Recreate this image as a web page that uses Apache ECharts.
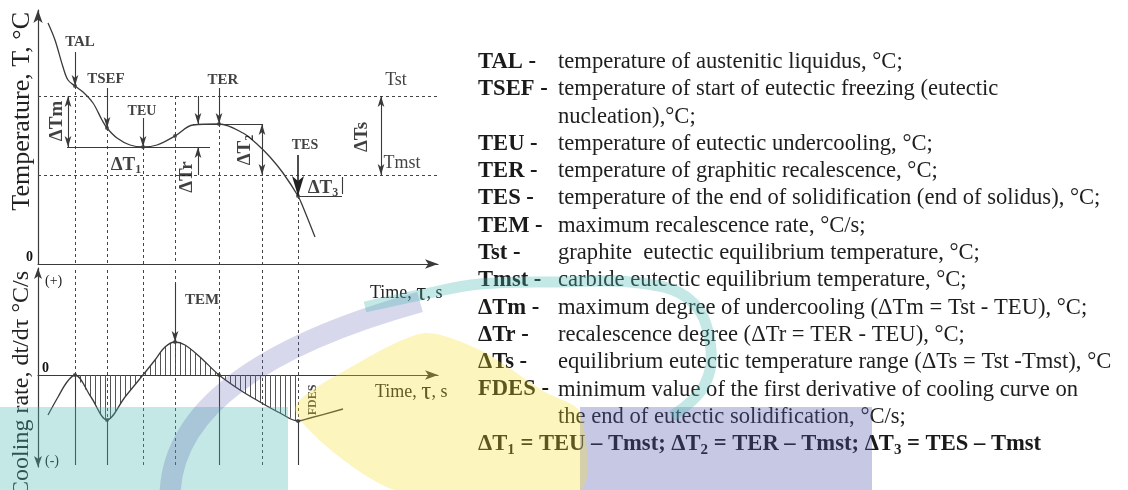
<!DOCTYPE html>
<html><head><meta charset="utf-8">
<script src="https://cdn.jsdelivr.net/npm/echarts@6/dist/echarts.min.js"></script>
<style>html,body{margin:0;background:#fff}#c{width:1128px;height:490px}</style>
</head><body><div id="c"></div>
<script>
// Cooling curve of the melt: temperature against time (schematic units)
const curveTime = [10, 17, 25, 30, 37, 45, 55, 64, 69, 79, 92, 105, 119, 137, 155, 181, 205, 220, 232, 245, 260, 265, 277];
const curveTemp = [241, 224, 197, 184, 178, 172, 161, 144, 136, 126, 119, 117, 119, 128, 139, 140, 131, 119, 107, 91, 68, 57, 27];
// First derivative of the cooling curve (cooling rate)
const rateTime = [10, 20, 29, 37, 53, 69, 87, 105, 117, 127, 137, 147, 162, 181, 202, 222, 242, 260, 272, 305];
const rateValue = [-40, -22, -7, 0, -22, -45, -22, 0, 15, 28, 33, 30, 18, 0, -15, -27, -38, -46, -43, -34];
// Characteristic moments: TAL, TSEF, TEU, TEM, TER, end of recalescence, TES
const eventTime = [37, 69, 105, 137, 181, 224, 260];
// Equilibrium temperatures
const Tst = 168, Tmst = 89;
// Glossary
const glossaryTerm = ['TAL -', 'TSEF -', '', 'TEU -', 'TER -', 'TES -', 'TEM -', 'Tst -', 'Tmst -', 'ΔTm -', 'ΔTr -', 'ΔTs -', 'FDES -', ''];
const glossaryText = [
  'temperature of austenitic liquidus, °C;',
  'temperature of start of eutectic freezing (eutectic',
  'nucleation),°C;',
  'temperature of eutectic undercooling, °C;',
  'temperature of graphitic recalescence, °C;',
  'temperature of the end of solidification (end of solidus), °C;',
  'maximum recalescence rate, °C/s;',
  'graphite  eutectic equilibrium temperature, °C;',
  'carbide eutectic equilibrium temperature, °C;',
  'maximum degree of undercooling (ΔTm = Tst - TEU), °C;',
  'recalescence degree (ΔTr = TER - TEU), °C;',
  'equilibrium eutectic temperature range (ΔTs = Tst -Tmst), °C',
  'minimum value of the first derivative of cooling curve on',
  'the end of eutectic solidification, °C/s;'
];

const serif = "'Liberation Serif','Times New Roman',serif";
const ink = '#3a3a3a';
const tempAt = t => curveTemp[curveTime.indexOf(t)];
const rateAt = t => rateValue[rateTime.indexOf(t)];
const [tTAL, tTSEF, tTEU, tTEM, tTER, tREC, tTES] = eventTime;
const TEU = tempAt(tTEU), TER = tempAt(tTER), TES = tempAt(tTES);

// vertical hatching used under the derivative curve
const hatch = document.createElement('canvas');
hatch.width = 5; hatch.height = 4;
const hctx = hatch.getContext('2d');
hctx.fillStyle = '#555';
hctx.fillRect(0, 0, 1, 4);

const dash = { type: [3, 3], width: 1, color: '#444' };
const solid = { type: 'solid', width: 1.1, color: ink };
const arrowSz = [5, 11];
function seg(a, b, ls, s0, s1, size) {
  return [
    { coord: a, symbol: s0 || 'none', symbolSize: size || arrowSz, lineStyle: ls },
    { coord: b, symbol: s1 || 'none', symbolSize: size || arrowSz }
  ];
}

const topLines = [
  seg([0, Tst], [400, Tst], dash),
  seg([0, Tmst], [400, Tmst], dash),
  seg([tTAL, tempAt(tTAL)], [tTAL, 0], dash),
  seg([tTSEF, tempAt(tTSEF)], [tTSEF, 0], dash),
  seg([tTEU, TEU], [tTEU, 0], dash),
  seg([tTEM, Tst], [tTEM, 0], dash),
  seg([tTER, TER], [tTER, 0], dash),
  seg([tREC, TER], [tREC, 0], dash),
  seg([tTES, TES], [tTES, 0], dash),
  // levels
  seg([29, TEU], [172, TEU], solid),
  seg([155, TER], [tREC, TER], solid),
  seg([tTES, TES], [304, TES], solid),
  seg([304, Tmst - 2], [304, TES + 2], solid),
  // marker arrows
  seg([tTAL, 212], [tTAL, tempAt(tTAL)], solid, 'none', 'arrow'),
  seg([tTSEF, 176], [tTSEF, tempAt(tTSEF)], solid, 'none', 'arrow'),
  seg([tTEU, 146], [tTEU, TEU], solid, 'none', 'arrow'),
  seg([tTER, 176], [tTER, TER], solid, 'none', 'arrow'),
  seg([tTES, 109], [tTES, TES], { type: 'solid', width: 1.6, color: '#222' }, 'none', 'arrow', [9, 20]),
  // temperature differences
  seg([30, Tst], [30, TEU], solid, 'arrow', 'arrow'),
  seg([160, Tst], [160, TER], solid, 'none', 'arrow'),
  seg([160, Tmst], [160, TEU], solid, 'none', 'arrow'),
  seg([tREC, TER], [tREC, Tmst], solid, 'arrow', 'arrow'),
  seg([343, Tst], [343, Tmst], solid, 'arrow', 'arrow')
];

const bottomLines = [
  seg([tTAL, 105], [tTAL, 0], dash), seg([tTAL, 0], [tTAL, -90], solid),
  seg([tTSEF, 105], [tTSEF, rateAt(tTSEF)], dash), seg([tTSEF, rateAt(tTSEF)], [tTSEF, -90], solid),
  seg([tTEU, 105], [tTEU, -90], dash),
  seg([tTEM, 105], [tTEM, -90], dash),
  seg([tTER, 105], [tTER, 0], dash), seg([tTER, 0], [tTER, -90], solid),
  seg([tREC, 105], [tREC, -90], dash),
  seg([tTES, 105], [tTES, rateAt(tTES)], dash), seg([tTES, rateAt(tTES)], [tTES, -90], solid),
  seg([tTEM, 92], [tTEM, rateAt(tTEM)], solid, 'none', 'arrow')
];

const rich = {
  d: { fontFamily: serif, fontSize: 19, color: '#111', lineHeight: 22 },
  s: { fontFamily: serif, fontSize: 12, color: '#111', lineHeight: 12, verticalAlign: 'bottom' }
};
function notes(xi, yi, list) {
  return {
    type: 'scatter', xAxisIndex: xi, yAxisIndex: yi, symbolSize: 0, silent: true, clip: false, z: 6,
    data: list.map(n => ({
      value: [n[1], n[2]],
      label: {
        show: true, position: 'inside', formatter: n[0], rotate: n[3] || 0,
        fontFamily: serif, fontSize: n[4] || 15, fontWeight: n[5] === false ? 'normal' : 'bold',
        color: '#111', rich: rich
      }
    }))
  };
}

const glossFont = 22.6;
const option = {
  animation: false,
  backgroundColor: '#fff',
  grid: [
    { left: 38, top: 10, width: 400, height: 254 },
    { left: 38, top: 268, width: 400, height: 199 }
  ],
  xAxis: [0, 1].map(i => ({
    type: 'value', gridIndex: i, min: 0, max: 400,
    axisLine: { show: true, onZero: true, symbol: ['none', 'arrow'], symbolSize: [7, 13], lineStyle: { color: ink, width: 1.2 } },
    axisTick: { show: false }, axisLabel: { show: false }, splitLine: { show: false }
  })),
  yAxis: [
    {
      type: 'value', gridIndex: 0, min: 0, max: 254, interval: 254,
      axisLine: { show: true, symbol: ['none', 'arrow'], symbolSize: [7, 13], lineStyle: { color: ink, width: 1.2 } },
      axisTick: { show: false }, splitLine: { show: false },
      axisLabel: { formatter: v => (v === 0 ? '0' : ''), fontFamily: serif, fontWeight: 'bold', fontSize: 14, color: '#111', verticalAlign: 'bottom', margin: 5 }
    },
    {
      type: 'value', gridIndex: 1, min: -92, max: 107, interval: 92,
      axisLine: { show: true, onZero: false, symbol: ['arrow', 'arrow'], symbolSize: [6, 11], lineStyle: { color: ink, width: 1.2 } },
      axisTick: { show: false }, splitLine: { show: false },
      axisLabel: { inside: true, formatter: v => (v === 0 ? '0' : ''), fontFamily: serif, fontWeight: 'bold', fontSize: 14, color: '#111', verticalAlign: 'bottom', margin: 4 }
    }
  ],
  series: [
    {
      name: 'Temperature', type: 'line', xAxisIndex: 0, yAxisIndex: 0, smooth: 0.35, symbol: 'none',
      lineStyle: { color: ink, width: 1.3 }, silent: true,
      data: curveTime.map((t, i) => [t, curveTemp[i]]),
      markLine: { silent: true, symbol: 'none', label: { show: false }, animation: false, data: topLines }
    },
    {
      name: 'Cooling rate', type: 'line', xAxisIndex: 1, yAxisIndex: 1, smooth: 0.35, symbol: 'none',
      lineStyle: { color: ink, width: 1.3 }, silent: true, z: 3,
      data: rateTime.map((t, i) => [t, rateValue[i]]),
      markLine: { silent: true, symbol: 'none', label: { show: false }, animation: false, data: bottomLines }
    },
    {
      name: 'Hatch', type: 'line', xAxisIndex: 1, yAxisIndex: 1, smooth: 0.35, symbol: 'none', silent: true, z: 1,
      lineStyle: { width: 0 },
      areaStyle: { color: { image: hatch, repeat: 'repeat' }, opacity: 1 },
      data: rateTime.map((t, i) => [t, rateValue[i]]).filter(p => p[0] >= tTAL && p[0] <= tTES)
    },
    {
      type: 'scatter', xAxisIndex: 0, yAxisIndex: 0, symbolSize: 4, silent: true, itemStyle: { color: '#333' },
      data: [tTAL, tTSEF, tTEU, tTEM, tTER, tTES].map(t => [t, tempAt(t)])
    },
    {
      type: 'scatter', xAxisIndex: 1, yAxisIndex: 1, symbolSize: 4, silent: true, itemStyle: { color: '#333' },
      data: [tTAL, tTSEF, tTEM, tTER, tTES].map(t => [t, rateAt(t)])
    },
    notes(0, 0, [
      ['TAL', 42, 222, 0, 15], ['TSEF', 68, 185, 0, 15], ['TEU', 104, 153, 0, 14],
      ['TER', 185, 184, 0, 15], ['TES', 267, 119, 0, 14],
      ['Tst', 358, 184, 0, 18, false], ['Tmst', 364, 101, 0, 18, false],
      ['{d|ΔTm}', 19, 143, 90], ['{d|ΔT}{s|1}', 88, 99], ['{d|ΔTr}', 149, 87, 90],
      ['{d|ΔT}{s|2}', 207, 114, 90], ['{d|ΔTs}', 324, 127, 90], ['{d|ΔT}{s|3}', 285, 76]
    ]),
    notes(1, 1, [['TEM', 164, 75, 0, 15], ['FDES', 275, -25, 90, 12]])
  ],
  graphic: [
    // axis titles
    { type: 'text', x: 22, y: 12, rotation: Math.PI / 2, z: 10,
      style: { text: 'Temperature, T, °C', font: '26px ' + serif, fill: '#222', align: 'right', verticalAlign: 'middle' } },
    { type: 'text', x: 22, y: 271, rotation: Math.PI / 2, z: 10,
      style: { text: 'Cooling rate, dt/dτ °C/s', font: '24px ' + serif, fill: '#222', align: 'right', verticalAlign: 'middle' } },
    { type: 'text', x: 45, y: 281, z: 10, style: { text: '(+)', font: '14px ' + serif, fill: '#222', verticalAlign: 'middle' } },
    { type: 'text', x: 45, y: 461, z: 10, style: { text: '(-)', font: '14px ' + serif, fill: '#222', verticalAlign: 'middle' } },
    { type: 'text', x: 370, y: 293, z: 10, style: { text: '{a|Time, }{t|τ}{a|, s}', verticalAlign: 'middle',
      rich: { a: { fontFamily: serif, fontSize: 18, fill: '#222' }, t: { fontFamily: serif, fontSize: 25, fill: '#222' } } } },
    { type: 'text', x: 375, y: 392, z: 10, style: { text: '{a|Time, }{t|τ}{a|, s}', verticalAlign: 'middle',
      rich: { a: { fontFamily: serif, fontSize: 18, fill: '#222' }, t: { fontFamily: serif, fontSize: 25, fill: '#222' } } } },
    // glossary
    ...glossaryTerm.map((s, i) => ({ type: 'text', x: 478, y: 62 + 27.3 * i, z: 10,
      style: { text: s, font: 'bold ' + glossFont + 'px ' + serif, fill: '#1a1a1a', verticalAlign: 'middle' } })),
    ...glossaryText.map((s, i) => ({ type: 'text', x: 558, y: 62 + 27.3 * i, z: 10,
      style: { text: s, font: glossFont + 'px ' + serif, fill: '#1e1e1e', verticalAlign: 'middle' } })),
    { type: 'text', x: 478, y: 62 + 27.3 * 14, z: 10,
      style: { text: '{b|ΔT}{s|1}{b| = TEU – Tmst; ΔT}{s|2}{b| = TER – Tmst; ΔT}{s|3}{b| = TES – Tmst}', verticalAlign: 'middle',
        rich: { b: { fontFamily: serif, fontWeight: 'bold', fontSize: glossFont, fill: '#1a1a1a', lineHeight: 26 },
                s: { fontFamily: serif, fontWeight: 'bold', fontSize: 15, fill: '#1a1a1a', lineHeight: 14, verticalAlign: 'bottom' } } } },
    // translucent logo overlay
    { type: 'rect', z: 100, silent: true, shape: { x: 0, y: 407, width: 288, height: 83 }, style: { fill: 'rgba(72,184,178,0.33)' } },
    { type: 'rect', z: 100, silent: true, shape: { x: 580, y: 407, width: 292, height: 83 }, style: { fill: 'rgba(86,92,172,0.33)' } },
    { type: 'polygon', z: 100, silent: true, shape: { smooth: 0.25, points: [[295, 410], [360, 362], [425, 333], [480, 350], [545, 392], [580, 412], [580, 490], [395, 490]] },
      style: { fill: 'rgba(246,222,40,0.3)' } },
    { type: 'bezierCurve', z: 101, silent: true, shape: { x1: 170, y1: 495, cpx1: 172, cpy1: 408, cpx2: 265, cpy2: 345, x2: 420, y2: 302 },
      style: { stroke: 'rgba(86,92,172,0.24)', lineWidth: 21, fill: null } },
    { type: 'polyline', z: 101, silent: true, shape: { smooth: 0.4, points: [[365, 307], [420, 295], [480, 284], [560, 282], [640, 283], [690, 300], [710, 342], [704, 386], [672, 416]] },
      style: { stroke: 'rgba(72,184,178,0.32)', lineWidth: 11, fill: null } }
  ]
};

echarts.init(document.getElementById('c'), null, { renderer: 'canvas' }).setOption(option);
</script>
</body></html>
